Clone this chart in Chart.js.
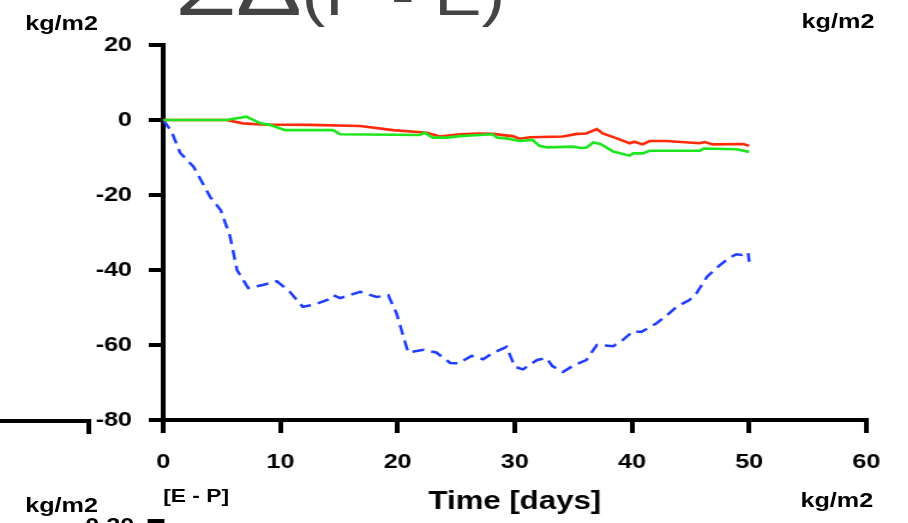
<!DOCTYPE html>
<html>
<head>
<meta charset="utf-8">
<script src="https://cdn.jsdelivr.net/npm/chart.js@4.4.1/dist/chart.umd.min.js"></script>
<style>
  html, body { margin: 0; padding: 0; background: #fff; overflow: hidden; }
  #wrap { position: relative; width: 757px; height: 523px; transform: scaleX(1.2); transform-origin: 0 0; }
  #wrap canvas { position: absolute; left: 0; top: 0; }
  .lbl { position: absolute; line-height: 0; white-space: nowrap; font-family: "Liberation Sans", Arial, sans-serif; font-weight: bold; color: #000; }
  #titulo { position: absolute; line-height: 0; white-space: nowrap; font-family: "Liberation Sans", Arial, sans-serif; color: #444; font-size: 59px; left: 146px; top: -13px; }
  #titulo span { font-size: 82px; }
</style>
</head>
<body>
<div id="wrap">
  <canvas id="grafico" width="757" height="523" style="width:757px;height:523px"></canvas>
  <div id="titulo"><span>ΣΔ</span>(P - E)</div>
  <div class="lbl" style="left:21px; top:23px; font-size:21px">kg/m2</div>
  <div class="lbl" style="left:668px; top:21px; font-size:21px">kg/m2</div>
  <div class="lbl" style="left:667px; top:500px; font-size:21px">kg/m2</div>
  <div class="lbl" style="left:71px; top:525px; font-size:21px">0.20</div>
  <div class="lbl" style="left:21px; top:505px; font-size:21px">kg/m2</div>
  <div class="lbl" style="left:136px; top:496px; font-size:19px">[E - P]</div>
</div>
<script>
// valores (dias, kg/m2)
const dias_verde = [0, 5.4, 7.1, 8.3, 9.1, 10.4, 14.5, 15.1, 21.9, 22.3, 23, 24.2, 25.3, 27, 28.1, 28.5, 29.3, 30.4, 31.5, 32.1, 32.7, 35, 35.5, 36.1, 36.7, 37.3, 38.4, 39.8, 40.1, 40.9, 41.5, 45.8, 46.1, 48.9, 50];
const valores_verde = [0, 0, 0.9, -0.9, -1.3, -2.7, -2.7, -3.8, -4, -3.4, -4.7, -4.7, -4.3, -4, -3.8, -4.7, -4.9, -5.6, -5.3, -6.9, -7.3, -7.1, -7.4, -7.4, -6, -6.4, -8.4, -9.5, -8.9, -8.9, -8.2, -8.2, -7.6, -7.8, -8.5];

const dias_vermelho = [0, 5.4, 6.8, 8.3, 12.5, 16.8, 19.6, 22.5, 23.6, 25.3, 26.8, 28.1, 29.8, 30.4, 31.3, 34.1, 35.3, 36.1, 37, 37.5, 38.7, 39.8, 40.2, 40.9, 41.5, 42.9, 45.8, 46.2, 46.9, 49.5, 50];
const valores_vermelho = [0, 0, -0.9, -1.2, -1.3, -1.6, -2.7, -3.4, -4.4, -3.8, -3.6, -3.7, -4.3, -5, -4.6, -4.4, -3.7, -3.6, -2.4, -3.6, -4.9, -6.2, -5.8, -6.5, -5.6, -5.6, -6.2, -5.9, -6.5, -6.4, -6.9];

const dias_azul = [0, 0.7, 1.45, 2.6, 4, 4.9, 5.7, 6.3, 7.25, 8.5, 9.7, 10.8, 11.9, 12.8, 14, 14.5, 15.1, 16.8, 18.2, 19.2, 19.9, 20.9, 22.2, 23.3, 24.5, 25.2, 26.3, 27.3, 28.1, 29.3, 30, 30.7, 31.9, 32.7, 33.2, 34.1, 35.1, 36.1, 37, 38.4, 39.2, 40.1, 40.8, 42.1, 43, 43.8, 44.9, 45.5, 46.4, 47.5, 48.3, 48.9, 49.4, 49.9, 50];
const valores_azul = [0, -3, -8.8, -12.5, -20.5, -24, -31, -40, -44.8, -44, -43, -45.8, -49.8, -49.3, -48, -46.7, -47.5, -45.8, -47.2, -46.7, -51.5, -62, -61.3, -62, -64.8, -64.9, -62.9, -63.8, -62.2, -60.5, -65.8, -66.5, -64, -63.5, -65.6, -67.2, -65.3, -64, -60, -60.3, -58.7, -56.3, -56.5, -54.2, -52, -49.8, -48, -46.2, -41.8, -38.7, -36.8, -35.8, -36, -35.3, -37.8];

const ticks_x = [0, 10, 20, 30, 40, 50, 60];
const ticks_y = [-80, -60, -40, -20, 0, 20];

function pares(xs, ys) {
    return xs.map((x, i) => ({ x: x, y: ys[i] }));
}

const fonte_ticks = { family: '"Liberation Sans", Arial, sans-serif', size: 21, weight: 'bold' };

// linhas soltas do painel vizinho
const restos = {
    id: 'restos',
    afterDraw(chart) {
        const ctx = chart.ctx;
        const area = chart.chartArea;
        ctx.save();
        ctx.strokeStyle = '#000';
        ctx.lineWidth = 4;
        ctx.beginPath();
        ctx.moveTo(0, area.bottom + 1);
        ctx.lineTo(74, area.bottom + 1);
        ctx.moveTo(74, area.bottom - 1);
        ctx.lineTo(74, area.bottom + 14);
        ctx.moveTo(area.left - 13, 521);
        ctx.lineTo(area.left + 1, 521);
        ctx.stroke();
        ctx.restore();
    }
};

const grafico = document.getElementById('grafico');

const myChart = new Chart(grafico, {
    type: 'line',
    data: {
        datasets: [{
            label: 'verde',
            data: pares(dias_verde, valores_verde),
            borderColor: '#1ee51e',
            borderWidth: 2.6,
            pointRadius: 0,
            tension: 0
        }, {
            label: 'vermelho',
            data: pares(dias_vermelho, valores_vermelho),
            borderColor: '#ff2a0a',
            borderWidth: 2.6,
            pointRadius: 0,
            tension: 0
        }, {
            label: 'azul',
            data: pares(dias_azul, valores_azul),
            borderColor: '#1f3dff',
            borderWidth: 2.5,
            borderDash: [10, 6],
            pointRadius: 0,
            tension: 0
        }]
    },
    options: {
        responsive: false,
        animation: false,
        devicePixelRatio: 1,
        layout: { padding: { top: 45, right: 35, left: 0, bottom: 0 } },
        plugins: {
            legend: { display: false },
            title: { display: false },
            tooltip: { enabled: false }
        },
        scales: {
            x: {
                type: 'linear',
                min: ticks_x[0],
                max: ticks_x[ticks_x.length - 1],
                afterBuildTicks: (s) => { s.ticks = ticks_x.map(v => ({ value: v })); },
                afterFit: (s) => { s.height = 103; },
                ticks: { font: fonte_ticks, color: '#000', padding: 17, maxRotation: 0 },
                grid: { drawOnChartArea: false, tickLength: 13, tickWidth: 4, tickColor: '#000', color: '#000', lineWidth: 4 },
                border: { display: true, color: '#000', width: 4 },
                title: {
                    display: true,
                    text: 'Time [days]',
                    color: '#000',
                    font: { family: '"Liberation Sans", Arial, sans-serif', size: 26, weight: 'bold' },
                    padding: { top: 0, bottom: 6 }
                }
            },
            y: {
                min: ticks_y[0],
                max: ticks_y[ticks_y.length - 1],
                afterBuildTicks: (s) => { s.ticks = ticks_y.map(v => ({ value: v })); },
                afterFit: (s) => { s.width = 136; },
                ticks: { font: fonte_ticks, color: '#000', padding: 14 },
                grid: { drawOnChartArea: false, tickLength: 12, tickWidth: 4, tickColor: '#000', color: '#000', lineWidth: 4 },
                border: { display: true, color: '#000', width: 4 }
            }
        }
    },
    plugins: [restos]
});
</script>
</body>
</html>
